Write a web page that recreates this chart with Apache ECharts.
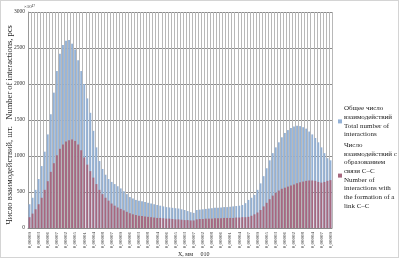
<!DOCTYPE html>
<html>
<head>
<meta charset="utf-8">
<script src="https://cdn.jsdelivr.net/npm/echarts@6/dist/echarts.min.js"></script>
<style>
  html, body { margin: 0; padding: 0; background: #fff; }
  #chart { width: 397px; height: 256px; border: 1px solid #d4d4d4; }
</style>
</head>
<body>
<div id="chart"></div>
<script>
// total number of interactions (x10^17), one value per bar
const totalCounts = [
    330, 420, 530, 680, 860, 1060, 1300, 1580, 1880, 2180,
    2420, 2540, 2600, 2610, 2560, 2480, 2330, 2180, 2000, 1800,
    1600, 1350, 1120, 930, 820, 740, 680, 640, 610, 580,
    550, 510, 470, 430, 410, 390, 380, 370, 360, 350,
    340, 330, 320, 310, 300, 290, 285, 280, 275, 270,
    260, 250, 235, 220, 210, 250, 255, 260, 265, 270,
    275, 280, 280, 285, 290, 290, 295, 300, 305, 310,
    320, 345, 390, 420, 460, 530, 620, 720, 830, 940,
    1040, 1120, 1190, 1260, 1320, 1360, 1390, 1410, 1420, 1415,
    1400, 1380, 1340, 1300, 1250, 1190, 1120, 1040, 970, 940
];

// interactions with the formation of a C-C link
const linkCounts = [
    150, 200, 260, 330, 420, 530, 650, 780, 900, 1010,
    1100, 1160, 1200, 1220, 1230, 1210, 1160, 1080, 980, 880,
    790, 700, 610, 530, 470, 420, 380, 340, 310, 285,
    265, 245, 225, 205, 190, 180, 170, 165, 160, 155,
    150, 145, 140, 140, 135, 130, 130, 125, 120, 120,
    115, 110, 110, 105, 105, 120, 125, 125, 130, 130,
    130, 135, 135, 135, 140, 140, 140, 140, 145, 145,
    150, 150, 155, 170, 190, 215, 250, 300, 350, 400,
    450, 490, 520, 545, 560, 575, 590, 605, 620, 635,
    645, 655, 660, 660, 655, 640, 630, 640, 655, 665
];

// labels shown under every third bar
const tickLabels = [
    "0,00009", "0,00003", "0,00006", "0,00007", "0,00002", "0,00005",
    "0,00001", "0,00004", "0,00008", "0,00007", "0,00009", "0,00006",
    "0,00003", "0,00008", "0,00004", "0,00006", "0,00005", "0,00003",
    "0,00007", "0,00002", "0,00008", "0,00006", "0,00001", "0,00004",
    "0,00007", "0,00009", "0,00005", "0,00003", "0,00006", "0,00002",
    "0,00008", "0,00004", "0,00007", "0,00009"
];

const seriesNames = [
    "Общее число\nвзаимодействий\nTotal number of\ninteractions",
    "Число\nвзаимодействий с\nобразованием\nсвязи C–C\nNumber of\ninteractions with\nthe formation of a\nlink C–C"
];

const categories = totalCounts.map((v, i) => i % 3 === 0 ? tickLabels[i / 3] : "");

const serif = "'Liberation Serif', 'DejaVu Serif', serif";
const chart = echarts.init(document.getElementById("chart"));

chart.setOption({
    animation: false,
    grid: { left: 27, right: 66, top: 11, bottom: 29 },
    legend: {
        orient: "vertical",
        left: 332,
        top: 98,
        itemWidth: 4,
        itemHeight: 4,
        itemGap: 2,
        icon: "rect",
        textStyle: { fontFamily: serif, fontSize: 7, lineHeight: 8.7, color: "#222", padding: [0, 0, 0, -3] },
        data: seriesNames
    },
    xAxis: {
        type: "category",
        data: categories,
        axisTick: { show: false },
        axisLine: { lineStyle: { color: "#888" } },
        axisLabel: {
            interval: 2,
            rotate: 90,
            fontFamily: serif,
            fontSize: 5,
            color: "#333",
            margin: 4
        },
        splitLine: { show: true, interval: 0, lineStyle: { color: "#b8b8b8", width: 1 } }
    },
    yAxis: {
        type: "value",
        min: 0,
        max: 3000,
        interval: 500,
        name: "×10¹⁷",
        nameGap: 3,
        nameTextStyle: { fontFamily: serif, fontSize: 5, color: "#333", align: "left", padding: [0, 0, 0, -4] },
        axisLine: { show: true, lineStyle: { color: "#999" } },
        axisLabel: { fontFamily: serif, fontSize: 5.5, color: "#333", margin: 3, formatter: v => String(v) },
        splitLine: { lineStyle: { color: "#8c8c8c" } }
    },
    graphic: [
        {
            type: "text",
            x: 9,
            y: 124,
            rotation: Math.PI / 2,
            style: {
                text: "Число взаимодействий, шт.   Number of interactions, pcs",
                font: "8.5px " + serif,
                fill: "#222",
                align: "center",
                verticalAlign: "middle"
            }
        },
        {
            type: "text",
            x: 177,
            y: 250,
            style: { text: "X, мм     010", font: "6px " + serif, fill: "#222" }
        }
    ],
    series: [
        {
            name: seriesNames[0],
            type: "bar",
            data: totalCounts,
            barWidth: "62%",
            barGap: "-100%",
            itemStyle: { color: "#93b1d6" }
        },
        {
            name: seriesNames[1],
            type: "bar",
            data: linkCounts,
            barWidth: "62%",
            itemStyle: { color: "#a7687f" }
        }
    ]
});
</script>
</body>
</html>
